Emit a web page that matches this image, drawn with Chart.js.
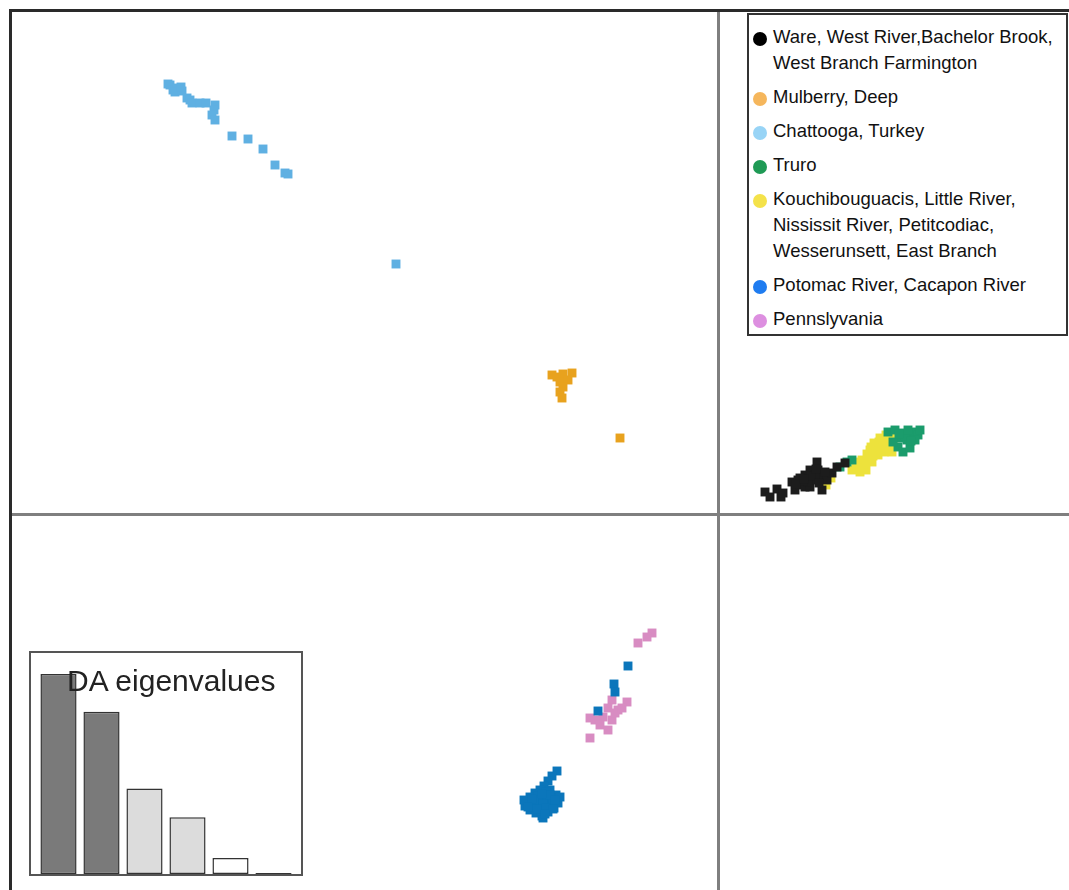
<!DOCTYPE html>
<html>
<head>
<meta charset="utf-8">
<script src="https://cdn.jsdelivr.net/npm/chart.js@4"></script>
<style>
  html, body { margin: 0; padding: 0; background: #fff; }
  #wrap { position: relative; width: 1069px; height: 890px; overflow: hidden; font-family: "Liberation Sans", Arial, sans-serif; }
  #main { position: absolute; left: 0; top: 0; }
  #legend { position: absolute; left: 747px; top: 13px; width: 321px; height: 323px; box-sizing: border-box;
            border: 2px solid #333; background: #fff; padding-top: 9px; }
  .entry { position: relative; padding-left: 24px; margin-bottom: 8px; font-size: 18.5px; line-height: 26px; color: #111; white-space: pre; }
  .dot { position: absolute; left: 4px; top: 7.5px; width: 14px; height: 14px; border-radius: 50%; }
  #inset { position: absolute; left: 29px; top: 651px; width: 274px; height: 225px; box-sizing: border-box;
           border: 2px solid #555; background: #fff; }
  #insetCanvas { position: absolute; left: 0; top: 0; }
  #insetTitle { position: absolute; left: 67px; top: 666px; font-size: 30px; line-height: 30px; color: #222; white-space: nowrap; }
</style>
</head>
<body>
<div id="wrap">
  <canvas id="main" width="1069" height="890"></canvas>
  <div id="legend"></div>
  <div id="inset"><canvas id="insetCanvas" width="270" height="221"></canvas></div>
  <div id="insetTitle">DA eigenvalues</div>
</div>
<script>
// ---------- DATA ----------
const groupLabels = [
  "Ware, West River,Bachelor Brook,\nWest Branch Farmington",
  "Mulberry, Deep",
  "Chattooga, Turkey",
  "Truro",
  "Kouchibouguacis, Little River,\nNississit River, Petitcodiac,\nWesserunsett, East Branch",
  "Potomac River, Cacapon River",
  "Pennslyvania"
];
const legendColors = ["#000000", "#f5b65c", "#98d4f6", "#1f9a55", "#f4e24a", "#1f7cf0", "#dd8fe0"];
const pointColors  = ["#1c1c1c", "#e8a21e", "#5fb0e2", "#1b9c6c", "#ede23c", "#0b76bb", "#d88cc2"];

// discriminant function scores [LD1, LD2]
const ware = [[0.94,0.44],[1.04,0.34],[1.18,0.50],[1.26,0.34],[1.30,0.42],[1.48,0.64],[1.54,0.48],[1.60,0.68],
  [1.64,0.58],[1.74,0.78],[1.74,0.54],[1.84,0.88],[1.84,0.54],[1.90,0.68],[1.98,1.04],[2.00,0.88],[2.08,0.74],
  [2.08,0.48],[2.18,0.68],[2.28,0.82],[2.38,0.94],[2.54,1.02],[1.94,0.78],[1.64,0.72],[1.80,0.64],
  [1.70,0.66],[1.86,0.76],[2.02,0.62],[1.96,0.90],[2.14,0.84],[1.56,0.60],[1.72,0.70]];
const mulberry = [[-3.32,2.78],[-3.22,2.74],[-3.10,2.80],[-2.92,2.82],[-3.16,2.64],[-3.00,2.68],[-3.10,2.54],
  [-3.16,2.44],[-3.12,2.32],[-1.96,1.52]];
const chattooga = [[-10.96,8.58],[-11.00,8.60],[-10.90,8.48],[-10.82,8.52],[-10.86,8.44],[-10.72,8.46],[-10.74,8.54],
  [-10.62,8.32],[-10.56,8.28],[-10.52,8.22],[-10.36,8.22],[-10.24,8.22],[-10.06,8.18],[-10.08,8.08],[-10.12,7.98],
  [-10.06,7.88],[-9.72,7.56],[-9.40,7.50],[-9.10,7.30],[-8.86,6.98],[-8.66,6.82],[-8.60,6.80],[-6.44,5.00]];
const truro = [[2.44,0.94],[2.58,1.04],[2.68,1.08],[3.40,1.64],[3.54,1.68],[3.70,1.62],[3.88,1.64],[4.00,1.58],
  [3.78,1.48],[3.60,1.34],[3.70,1.24],[3.84,1.32],[3.94,1.48],[3.64,1.52],[3.50,1.44],[4.04,1.68],
  [3.74,1.56],[3.86,1.46],[3.62,1.60],[3.80,1.68]];
const kouchi = [[2.16,0.58],[2.26,0.72],[2.68,0.88],[2.80,0.92],[2.76,1.04],[2.88,1.08],[2.94,0.96],[3.00,1.18],
  [3.08,1.04],[3.04,1.28],[3.16,1.32],[3.20,1.18],[3.28,1.40],[3.32,1.24],[3.40,1.48],[3.44,1.34],[3.52,1.52],
  [3.24,1.52],[3.12,1.42],[2.96,0.88],[2.84,0.84],[3.36,1.58],[3.48,1.24],
  [2.90,1.00],[3.00,1.06],[3.10,1.16],[3.18,1.24],[3.26,1.30],[3.36,1.40],[2.84,1.00],[3.06,1.34],[3.22,1.44],
  [3.30,1.50],[3.44,1.42],[2.98,1.20]];
const potomac = [[-3.22,-5.14],[-3.32,-5.24],[-3.40,-5.34],[-3.48,-5.44],[-3.56,-5.52],[-3.66,-5.58],[-3.76,-5.66],
  [-3.82,-5.76],[-3.86,-5.84],[-3.76,-5.92],[-3.64,-5.98],[-3.52,-6.04],[-3.40,-5.96],[-3.28,-5.88],[-3.20,-5.78],
  [-3.24,-5.62],[-3.36,-5.52],[-3.46,-5.68],[-3.60,-5.78],[-3.40,-5.72],[-3.72,-5.82],[-3.56,-5.88],[-3.32,-5.68],
  [-3.44,-5.56],[-3.88,-5.72],[-3.16,-5.66],[-3.50,-6.08],
  [-3.60,-5.64],[-3.50,-5.80],[-3.30,-5.78],[-3.68,-5.72],[-3.54,-5.94],[-3.44,-5.88],[-3.36,-5.62],[-3.26,-5.72],
  [-3.62,-5.90],[-3.72,-5.70],[-3.52,-5.60],[-3.30,-5.90],[-3.80,-5.86],[-3.46,-6.00],
  [-1.80,-3.04],[-2.08,-3.40],[-2.06,-3.56],[-2.40,-3.94]];
const penn = [[-1.32,-2.38],[-1.42,-2.46],[-1.60,-2.58],[-1.82,-3.76],[-2.12,-3.72],[-2.20,-3.88],[-2.00,-3.92],
  [-2.30,-4.06],[-2.12,-4.12],[-2.46,-4.12],[-2.56,-4.08],[-2.36,-4.22],[-2.20,-4.32],[-2.56,-4.48],[-2.06,-3.98],
  [-1.92,-3.88]];
const groups = [ware, mulberry, chattooga, truro, kouchi, potomac, penn];

// axis limits of the scatter (LD1, LD2)
const xLimits = [-14.16, 7.02];
const yLimits = [-7.52, 10.08];

// inset: DA eigenvalues
const eigLabels = ["1", "2", "3", "4", "5", "6"];
const eigValues = [201, 163, 86, 57, 16, 1];
const eigColors = ["#7a7a7a", "#7a7a7a", "#dcdcdc", "#dcdcdc", "#ffffff", "#ffffff"];
const eigMax = 222;

// ---------- LEGEND (HTML) ----------
const legendEl = document.getElementById('legend');
groupLabels.forEach((lab, i) => {
  const e = document.createElement('div');
  e.className = 'entry';
  e.textContent = lab;
  const d = document.createElement('span');
  d.className = 'dot';
  d.style.background = legendColors[i];
  e.appendChild(d);
  legendEl.appendChild(e);
});

// ---------- MAIN SCATTER ----------
const zeroGrid = {
  display: true,
  drawTicks: false,
  drawOnChartArea: true,
  color: (c) => (c.tick && c.tick.value === 0) ? '#7f7f7f' : 'rgba(0,0,0,0)',
  lineWidth: (c) => (c.tick && c.tick.value === 0) ? 3 : 0
};
new Chart(document.getElementById('main'), {
  type: 'scatter',
  data: {
    datasets: groups.map((g, i) => ({
      label: groupLabels[i],
      data: g.map(p => ({ x: p[0], y: p[1] })),
      backgroundColor: pointColors[i],
      borderWidth: 0,
      pointStyle: 'rect',
      pointRadius: 6.3
    }))
  },
  options: {
    responsive: false,
    animation: false,
    events: [],
    devicePixelRatio: 1,
    layout: { autoPadding: false, padding: { left: 10, top: 10, right: 0, bottom: 0 } },
    plugins: { legend: { display: false }, tooltip: { enabled: false }, title: { display: false } },
    scales: {
      x: {
        type: 'linear', position: 'top', min: xLimits[0], max: xLimits[1],
        ticks: { display: false, stepSize: 1 },
        grid: zeroGrid,
        border: { display: true, color: '#2a2a2a', width: 3 }
      },
      y: {
        type: 'linear', position: 'left', min: yLimits[0], max: yLimits[1],
        ticks: { display: false, stepSize: 1 },
        grid: zeroGrid,
        border: { display: true, color: '#2a2a2a', width: 3 }
      }
    }
  }
});

// ---------- INSET BAR CHART ----------
new Chart(document.getElementById('insetCanvas'), {
  type: 'bar',
  data: {
    labels: eigLabels,
    datasets: [{
      data: eigValues,
      backgroundColor: eigColors,
      borderColor: '#333',
      borderWidth: 1.5,
      borderSkipped: false,
      barPercentage: 0.84,
      categoryPercentage: 1.0
    }]
  },
  options: {
    responsive: false,
    animation: false,
    events: [],
    devicePixelRatio: 1,
    layout: { autoPadding: false, padding: { left: 6, right: 6, top: 0, bottom: 0 } },
    plugins: { legend: { display: false }, tooltip: { enabled: false } },
    scales: {
      x: { display: false },
      y: { display: false, min: 0, max: eigMax }
    }
  }
});
</script>
</body>
</html>
